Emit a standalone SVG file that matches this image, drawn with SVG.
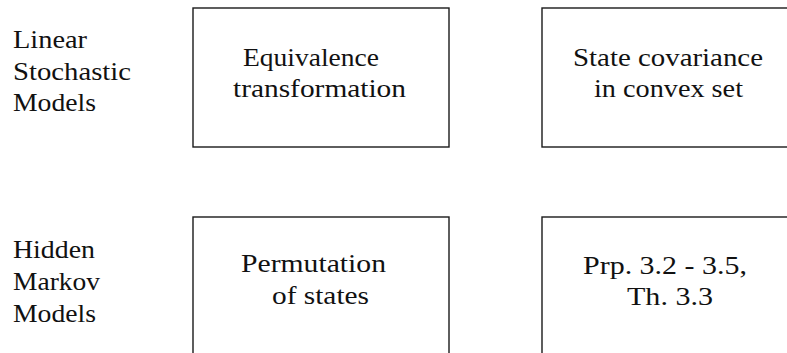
<svg xmlns="http://www.w3.org/2000/svg" width="787" height="353" viewBox="0 0 787 353">
  <style>
    .box { fill: #ffffff; stroke: #1a1a1a; stroke-width: 1.4; }
    text { font-family: "Liberation Serif", "Times New Roman", serif; font-size: 25px; fill: #111111; }
  </style>
  <rect width="787" height="353" fill="#ffffff"/>

  <!-- row labels -->
  <g id="label-lsm">
    <text x="13" y="48" textLength="74" lengthAdjust="spacingAndGlyphs">Linear</text>
    <text x="13" y="80" textLength="118" lengthAdjust="spacingAndGlyphs">Stochastic</text>
    <text x="13" y="111" textLength="83" lengthAdjust="spacingAndGlyphs">Models</text>
  </g>
  <g id="label-hmm">
    <text x="13" y="258" textLength="82" lengthAdjust="spacingAndGlyphs">Hidden</text>
    <text x="13" y="290" textLength="87" lengthAdjust="spacingAndGlyphs">Markov</text>
    <text x="13" y="322" textLength="83" lengthAdjust="spacingAndGlyphs">Models</text>
  </g>

  <!-- top row -->
  <g id="node-equivalence">
    <rect class="box" x="193" y="8" width="256" height="139"/>
    <text x="243" y="66" textLength="136" lengthAdjust="spacingAndGlyphs">Equivalence</text>
    <text x="233" y="97" textLength="173" lengthAdjust="spacingAndGlyphs">transformation</text>
  </g>
  <g id="node-covariance">
    <rect class="box" x="542" y="8" width="260" height="139"/>
    <text x="573" y="66" textLength="190" lengthAdjust="spacingAndGlyphs">State covariance</text>
    <text x="594" y="97" textLength="149" lengthAdjust="spacingAndGlyphs">in convex set</text>
  </g>

  <!-- bottom row -->
  <g id="node-permutation">
    <rect class="box" x="193" y="217" width="256" height="160"/>
    <text x="241" y="272" textLength="145" lengthAdjust="spacingAndGlyphs">Permutation</text>
    <text x="272" y="304" textLength="97" lengthAdjust="spacingAndGlyphs">of states</text>
  </g>
  <g id="node-propositions">
    <rect class="box" x="542" y="217" width="260" height="160"/>
    <text x="583" y="274" textLength="164" lengthAdjust="spacingAndGlyphs">Prp. 3.2 - 3.5,</text>
    <text x="627" y="305" textLength="86" lengthAdjust="spacingAndGlyphs">Th. 3.3</text>
  </g>

  <g id="connectors"></g>
</svg>
